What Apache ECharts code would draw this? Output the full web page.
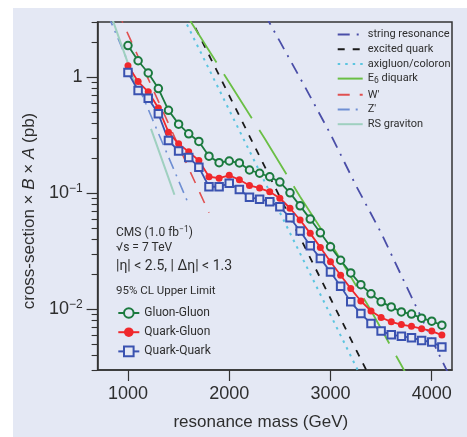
<!DOCTYPE html>
<html><head><meta charset="utf-8">
<script src="https://cdn.jsdelivr.net/npm/echarts@6/dist/echarts.min.js"></script>
<style>html,body{margin:0;padding:0;background:#fff;width:467px;height:437px;overflow:hidden}
#c{position:absolute;left:13px;top:8px;width:454px;height:429px}</style>
</head><body><div id="c"></div>
<script>
// ---- data ----
const masses = [1000,1100,1200,1300,1400,1500,1600,1700,1800,1900,2000,2100,2200,2300,2400,2500,
                2600,2700,2800,2900,3000,3100,3200,3300,3400,3500,3600,3700,3800,3900,4000,4100];
const gluonGluon = [1.88,1.39,1.09,0.80,0.52,0.395,0.326,0.28,0.209,0.184,0.19,0.183,0.159,0.149,0.139,0.125,
                    0.101,0.078,0.060,0.0457,0.0346,0.0265,0.0206,0.0163,0.0136,0.0116,0.0105,0.0095,0.0091,0.0084,0.0079,0.0073];
const quarkGluon = [1.26,0.92,0.75,0.544,0.337,0.267,0.228,0.192,0.139,0.135,0.143,0.131,0.117,0.111,0.103,0.0907,
                    0.0744,0.0589,0.0452,0.0342,0.0257,0.0197,0.0151,0.0118,0.0097,0.0085,0.0078,0.0074,0.00714,0.00682,0.0065,0.0060];
const quarkQuark = [1.10,0.77,0.659,0.486,0.285,0.232,0.204,0.168,0.114,0.114,0.122,0.108,0.0925,0.089,0.0848,0.0765,
                    0.0617,0.0473,0.0353,0.0275,0.021,0.0158,0.0116,0.0092,0.00754,0.0065,0.00605,0.00585,0.0057,0.0054,0.00523,0.00473];

const stringMass = [2350,2500,2750,3000,3250,3500,3750,4000,4200];
const stringRes  = [3.51,2.04,0.822,0.324,0.1175,0.0457,0.0158,0.0055,0.0024];
const excitedMass = [1600,2000,2500,3000,3400];
const excitedQuark = [3.48,0.697,0.0931,0.0124,0.00248];
const axiMass = [1550,2000,2500,3000,3300];
const axigluon = [3.26,0.522,0.0684,0.00895,0.00264];
const e6Mass = [1600,2000,2350,2700,3050,3400,3750];
const e6Diquark = [3.22,0.902,0.297,0.0933,0.0317,0.00977,0.00275];
const wMass = [900,1000,1200,1400,1600,1800];
const wPrime = [3.68,2.36,0.97,0.40,0.164,0.068];
const zMass = [800,1000,1200,1400,1590];
const zPrime = [3.49,1.36,0.53,0.206,0.084];
const rsMass = [850,1000,1200,1400,1460];
const rsGraviton = [3.1,1.32,0.42,0.136,0.0965];

const xTicks = [1000,2000,3000,4000];
const yMajor = [0.01,0.1,1];
const yMinor = [0.003,0.004,0.005,0.006,0.007,0.008,0.009,0.02,0.03,0.04,0.05,0.06,0.07,0.08,0.09,
                0.2,0.3,0.4,0.5,0.6,0.7,0.8,0.9,2,3];

// ---- chart ----
const NARROW = 'Roboto,"Liberation Sans",Arial,sans-serif';
const SANS = '"Liberation Sans",Arial,sans-serif';
const BG = '#e4e8f4';
const INK = '#2e2e2e';
const pairs = (xs, ys) => xs.map((x, i) => [x, ys[i]]);

function theory(name, xs, ys, color, width, dash) {
  return { name, type: 'line', data: pairs(xs, ys), symbol: 'none', z: 1, silent: true,
    lineStyle: { color, width, type: dash }, itemStyle: { color } };
}
function measured(name, ys, color, symbol, size, filled) {
  return { name, type: 'line', data: pairs(masses, ys), symbol, symbolSize: size, z: 3,
    lineStyle: { color, width: 1.8 },
    itemStyle: filled ? { color } : { color: BG, borderColor: color, borderWidth: 2 } };
}

const chart = echarts.init(document.getElementById('c'));
chart.setOption({
  animation: false,
  backgroundColor: BG,
  grid: { left: 84, right: 15, top: 14, bottom: 67, show: true, borderColor: '#333', borderWidth: 1.5, backgroundColor: 'transparent' },
  xAxis: {
    type: 'value', min: 700, max: 4200,
    name: 'resonance mass (GeV)', nameLocation: 'middle', nameGap: 44,
    nameTextStyle: { fontFamily: SANS, fontSize: 17, color: INK, padding: [0, 28, 0, 0] },
    axisLine: { lineStyle: { color: '#333', width: 1.5 } },
    axisTick: { show: true, length: 11, customValues: xTicks, lineStyle: { color: '#333', width: 1.2 } },
    axisLabel: { customValues: xTicks, margin: 15, fontFamily: SANS, fontSize: 18, color: INK, formatter: v => String(v) },
    splitLine: { show: false }
  },
  yAxis: [{
    type: 'log', logBase: 10, min: 0.003, max: 3,
    name: 'cross-section × {i|B} × {i|A} (pb)', nameLocation: 'middle', nameGap: 42,
    nameTextStyle: { fontFamily: SANS, fontSize: 17, color: INK, padding: [0, 30, 0, 0],
      rich: { i: { fontFamily: SANS, fontSize: 17, fontStyle: 'italic', color: INK } } },
    axisLine: { show: true, lineStyle: { color: '#333', width: 1.5 } },
    axisTick: { show: true, length: 11, customValues: yMajor, lineStyle: { color: '#333', width: 1.2 } },
    axisLabel: { customValues: yMajor, margin: 15, color: INK,
      formatter: v => v >= 0.999 ? '{b|1}' : '{b|10}{s|−' + Math.round(-Math.log10(v)) + '}',
      rich: { b: { fontFamily: SANS, fontSize: 18, color: INK, lineHeight: 22 },
              s: { fontFamily: SANS, fontSize: 12, color: INK, verticalAlign: 'top', lineHeight: 22 } } },
    splitLine: { show: false }
  }, {
    type: 'log', logBase: 10, min: 0.003, max: 3, position: 'left',
    axisLine: { show: false }, axisLabel: { show: false }, splitLine: { show: false },
    axisTick: { show: true, length: 6, customValues: yMinor, lineStyle: { color: '#333', width: 1.1 } }
  }],
  legend: [{
    orient: 'vertical', left: 323.7, top: 21, padding: 0, itemWidth: 25, itemHeight: 12, itemGap: 3.7,
    data: ['string resonance', 'excited quark', 'axigluon/coloron', 'E6 diquark', "W'", "Z'", 'RS graviton'],
    formatter: n => n === 'E6 diquark' ? 'E{sub|6} diquark' : n,
    itemStyle: { color: 'rgba(0,0,0,0)', borderColor: 'rgba(0,0,0,0)', borderWidth: 0 },
    textStyle: { fontFamily: NARROW, fontSize: 11, color: INK,
      rich: { sub: { fontFamily: NARROW, fontSize: 8.5, color: INK, verticalAlign: 'bottom', padding: [5, 0, 0, 0] } } }
  }, {
    orient: 'vertical', left: 104.3, top: 299, padding: 0, itemWidth: 21, itemHeight: 12, itemGap: 7.2,
    data: ['Gluon-Gluon', 'Quark-Gluon', 'Quark-Quark'],
    textStyle: { fontFamily: NARROW, fontSize: 12, color: INK }
  }],
  graphic: [
    { type: 'text', x: 103, y: 224.7, silent: true, style: { text: 'CMS (1.0 fb{s|−1})', font: '12px ' + NARROW, fill: INK, verticalAlign: 'middle',
        rich: { s: { fontSize: 8.5, fontFamily: NARROW, fill: INK, verticalAlign: 'top', lineHeight: 14 } } } },
    { type: 'text', x: 103, y: 240.3, silent: true, style: { text: '√s = 7 TeV', font: '12px ' + NARROW, fill: INK, verticalAlign: 'middle' } },
    { type: 'text', x: 103, y: 258.7, silent: true, style: { text: '|η| < 2.5, | Δη| < 1.3', font: '14px ' + NARROW, fill: INK, verticalAlign: 'middle' } },
    { type: 'text', x: 103, y: 283, silent: true, style: { text: '95% CL Upper Limit', font: '11.5px ' + NARROW, fill: INK, verticalAlign: 'middle' } }
  ],
  series: [
    theory('string resonance', stringMass, stringRes, '#4a4ea8', 1.8, [12, 7, 2, 7]),
    theory('excited quark', excitedMass, excitedQuark, '#1a1a1a', 1.8, [7, 8]),
    theory('axigluon/coloron', axiMass, axigluon, '#5cc5e0', 2, [2.5, 5]),
    theory('E6 diquark', e6Mass, e6Diquark, '#6abf45', 1.8, [52, 14]),
    theory("W'", wMass, wPrime, '#e05050', 1.6, [12, 10]),
    theory("Z'", zMass, zPrime, '#6f8fd3', 1.6, [12, 6, 2, 6]),
    theory('RS graviton', rsMass, rsGraviton, '#9fd0c0', 2, [70, 45]),
    measured('Gluon-Gluon', gluonGluon, '#1b7a3e', 'circle', 7.5, false),
    measured('Quark-Gluon', quarkGluon, '#f0282c', 'circle', 7, true),
    measured('Quark-Quark', quarkQuark, '#3a52b0', 'rect', 7.5, false)
  ]
});
</script></body></html>
